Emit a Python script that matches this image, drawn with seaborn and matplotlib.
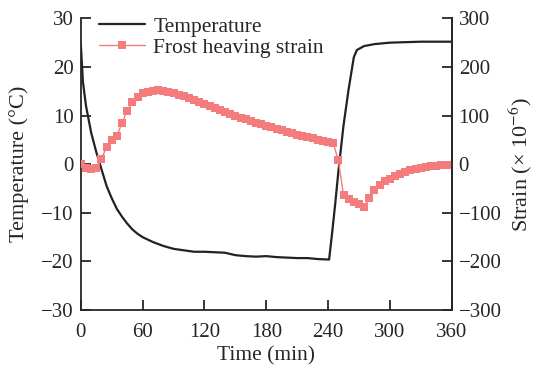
import numpy as np
import pandas as pd
import seaborn as sns
import matplotlib.pyplot as plt

# temperature trace (min, degC)
temp_time = [0, 2, 5, 10, 15, 20, 25, 30, 35, 40, 45, 50, 55, 60, 70, 80, 90, 100,
             110, 120, 130, 140, 150, 160, 170, 180, 190, 200, 210, 220, 230, 241,
             244, 247, 250, 255, 260, 265, 268, 275, 285, 300, 315, 330, 345, 360]
temp_vals = [24.5, 17, 12, 6.5, 2.5, -1, -4.5, -7, -9.2, -10.8, -12.2, -13.4, -14.3,
             -15, -16, -16.8, -17.4, -17.7, -18, -18, -18.1, -18.2, -18.7, -18.9,
             -19.0, -18.9, -19.1, -19.2, -19.3, -19.3, -19.5, -19.6, -14, -8, -1.5,
             8, 15.5, 22, 23.5, 24.3, 24.7, 25, 25.1, 25.2, 25.2, 25.2]

# frost heaving strain, one reading every 5 min (x 10^-6)
strain_time = list(range(0, 365, 5))
strain_vals = [0, -7, -10, -8, 10, 36, 50, 58, 85, 110, 127, 139, 146, 149, 151, 152,
               151, 149, 146, 143, 140, 136, 132, 128, 124, 120, 116, 112, 108, 104,
               100, 96, 92, 88, 85, 82, 79, 76, 73, 70, 67, 64, 61, 58, 55, 53, 50,
               47, 45, 43, 8, -63, -72, -78, -82, -88, -70, -52, -42, -35, -30, -25,
               -20, -16, -12, -9, -7, -5, -4, -3, -2, -1, -1]

temp_df = pd.DataFrame({"time": temp_time, "temp": temp_vals})
strain_df = pd.DataFrame({"time": strain_time, "strain": strain_vals})

sns.set_style("ticks")
plt.rcParams["font.family"] = ["Liberation Serif", "DejaVu Serif"]
plt.rcParams["mathtext.fontset"] = "stix"

fig = plt.figure(figsize=(5.39, 3.67), dpi=100)
ax = fig.add_axes([0.150, 0.155, 0.688, 0.795])
ax2 = ax.twinx()

pink = "#F47C7C"
sns.lineplot(data=temp_df, x="time", y="temp", ax=ax, color="#222222",
             linewidth=1.6, label="Temperature", legend=False)
sns.lineplot(data=strain_df, x="time", y="strain", ax=ax2, color=pink,
             linewidth=1.0, marker="s", markersize=5.5, markeredgewidth=0,
             label="Frost heaving strain", legend=False)

ax.set_xlim(0, 360)
ax.set_ylim(-30, 30)
ax2.set_ylim(-300, 300)
ax.set_xticks(range(0, 361, 60))
ax.set_yticks(range(-30, 31, 10))
ax2.set_yticks(range(-300, 301, 100))
ax.set_yticklabels([f"{v}".replace("-", "\u2212") for v in range(-30, 31, 10)])
ax2.set_yticklabels([f"{v}".replace("-", "\u2212") for v in range(-300, 301, 100)])

ax.set_xlabel("Time (min)", fontsize=15.5, labelpad=3)
ax.set_ylabel("Temperature (°C)", fontsize=16, labelpad=9)
ax2.set_ylabel("Strain (× 10$^{\u22126}$)", fontsize=16, labelpad=4)

for a in (ax, ax2):
    a.spines["top"].set_visible(False)
    for s in a.spines.values():
        s.set_linewidth(1.3)
    a.tick_params(direction="in", length=7, width=1.3, labelsize=15, pad=5)
ax.tick_params(axis="x", pad=9)
ax2.spines["left"].set_visible(False)
ax2.spines["bottom"].set_visible(False)

h1, l1 = ax.get_legend_handles_labels()
h2, l2 = ax2.get_legend_handles_labels()
leg = ax.legend(h1 + h2, l1 + l2, loc="upper left", bbox_to_anchor=(0.05, 1.006),
                frameon=False, fontsize=15.5, handlelength=2.1, handletextpad=0.4,
                labelspacing=0.05, borderpad=0, borderaxespad=0)

fig.savefig("out.png", dpi=100)
